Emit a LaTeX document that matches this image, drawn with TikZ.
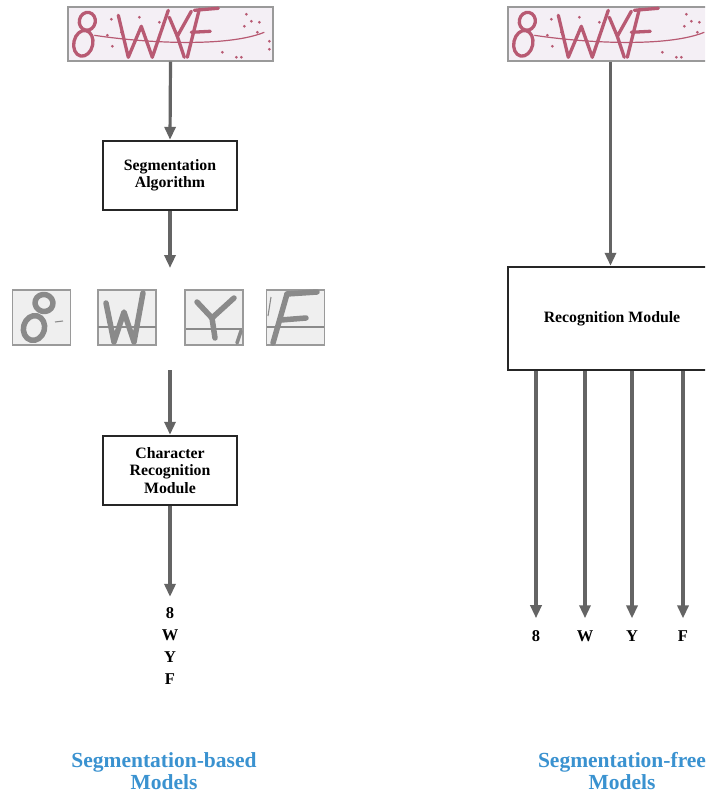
\documentclass[tikz,border=0pt]{standalone}
\usepackage{fontspec}
\setmainfont{Liberation Serif}
\usetikzlibrary{arrows.meta}

\definecolor{arrowgray}{HTML}{646464}
\definecolor{capink}{HTML}{B85A73}
\definecolor{capbg}{HTML}{F4EFF5}
\definecolor{capedge}{HTML}{9A9A9A}
\definecolor{glyphgray}{HTML}{8A8A8A}
\definecolor{tilebg}{HTML}{EFEFEF}
\definecolor{captionblue}{HTML}{3A92D0}

\tikzset{
  arr/.style={draw=arrowgray, line width=3.2pt, -{Triangle[length=13pt,width=11pt]}},
  procbox/.style={draw=black!85, line width=2.4pt, fill=white, inner sep=0pt, align=center,
    font=\bfseries\fontsize{15.8}{17.5}\selectfont},
  captchabox/.style={draw=capedge, line width=1.4pt, fill=capbg, minimum width=205pt,
    minimum height=54pt, inner sep=0pt},
  tile/.style={draw=capedge, line width=1.4pt, fill=tilebg, minimum width=58pt,
    minimum height=55pt, inner sep=0pt},
  outlabel/.style={font=\bfseries\fontsize{16.5}{22.3}\selectfont, align=center, inner sep=0pt},
  caption/.style={font=\bfseries\fontsize{21.5}{22.5}\selectfont, text=captionblue, align=center},
  ink/.style={draw=capink, line width=3.3pt, line cap=round, line join=round},
  noise/.style={draw=capink, line width=1.2pt},
  speck/.style={fill=capink},
  glyph/.style={draw=glyphgray, line width=5.5pt, line cap=round, line join=round},
  glyphnoise/.style={draw=glyphgray, line width=1.1pt},
}

% strokes of the CAPTCHA "8WYF", relative to the image's top-left corner
\newcommand\captchaink[1]{%
  \begin{scope}[shift={(#1)}]
    % 8
    \draw[ink, rotate around={-12:(20,15)}] (20,15) ellipse[x radius=8, y radius=9];
    \draw[ink, rotate around={-12:(16,37)}] (16,37) ellipse[x radius=9.5, y radius=13];
    % W
    \draw[ink] (51,9) -- (61,51) -- (74,20) -- (85,51) -- (101,4);
    % Y
    \draw[ink] (102,11) -- (110,30) -- (124,5);
    \draw[ink] (110,30) -- (117,51);
    % F
    \draw[ink] (132,3) -- (120,51);
    \draw[ink] (127,4) -- (151,2);
    \draw[ink] (124,26) -- (143,25);
    % noise line and specks
    \draw[noise] (27,29) .. controls (80,37) and (160,41) .. (197,26);
    \foreach \p in {(44,13),(45,40),(54,26),(40,29),(72,11),(92,16),(155,46),(169,51),
                    (174,51),(179,8),(184,15),(192,16),(177,20),(190,26),(202,35),(202,43)}
      \fill[speck] \p circle[radius=1.5];
  \end{scope}}

\begin{document}
\begin{tikzpicture}[x=1pt, y=-1pt]
  \clip (0,0) rectangle (705,794);
  \fill[white] (0,0) rectangle (705,794);

  % ---------------- segmentation-based pipeline ----------------
  \node[captchabox] (capL) at (170.5,34) {};
  \captchaink{capL.north west}

  \node[procbox, minimum width=134pt, minimum height=69pt] (seg) at (170,175.5)
    {Segmentation\\Algorithm};

  \coordinate (rowtop) at (170,268);
  \coordinate (rowbot) at (170,370);

  \node[tile] (t1) at (41.5,317.5) {};
  \node[tile] (t2) at (127,317.5) {};
  \node[tile] (t3) at (214,317.5) {};
  \node[tile] (t4) at (295.5,317.5) {};

  % segmented glyphs
  \draw[glyph, rotate around={-15:(44,303)}] (44,303) ellipse[x radius=9, y radius=8.5];
  \draw[glyph, rotate around={-15:(34,328)}] (34,328) ellipse[x radius=10.5, y radius=12.5];
  \draw[glyphnoise] (55,322) -- (63,321);
  \draw[glyphnoise] (98,327) -- (156,327);
  \draw[glyph] (106,303) -- (114,342) -- (124,312) -- (134,342) -- (143,293);
  \draw[glyphnoise] (186,329) -- (242,329);
  \draw[glyph] (197,302) -- (212,318) -- (234,298);
  \draw[glyph] (212,318) -- (215,338);
  \draw[glyph, line width=3.5pt] (237,343) -- (241,331);
  \draw[glyphnoise] (267,327) -- (324,327);
  \draw[glyphnoise] (271,297) -- (268,316);
  \draw[glyph] (287,294) -- (273,343);
  \draw[glyph] (287,294) -- (317,292);
  \draw[glyph] (281,320) -- (306,318);

  \node[procbox, minimum width=134pt, minimum height=69pt] (crm) at (170,470.5)
    {Character\\Recognition\\Module};

  \node[outlabel] (outL) at (170,646) {8\\W\\Y\\F};

  \draw[arr] (capL.south) -- (seg.north);
  \draw[arr] (seg.south) -- (rowtop);
  \draw[arr] (rowbot) -- (crm.north);
  \draw[arr, shorten >=10pt] (crm.south) -- (outL.north);

  \node[caption] (capBased) at (164,771) {Segmentation-based\\Models};

  % ---------------- segmentation-free pipeline ----------------
  \node[captchabox] (capR) at (610.5,34) {};
  \captchaink{capR.north west}

  \node[procbox, minimum width=212pt, minimum height=103pt] (rm) at (614,318.5) {};
  \node[font=\bfseries\fontsize{15.8}{17.5}\selectfont] (rmtext) at (612,318.5) {Recognition Module};

  \draw[arr] (capR.south) -- (capR.south |- rm.north);

  \node[outlabel] (o1) at (536,636) {8};
  \node[outlabel] (o2) at (585,636) {W};
  \node[outlabel] (o3) at (632,636) {Y};
  \node[outlabel] (o4) at (683,636) {F};
  \foreach \o in {o1,o2,o3,o4}
    \draw[arr, shorten >=12pt] (\o |- rm.south) -- (\o.north);

  \node[caption] (capFree) at (622,771) {Segmentation-free\\Models};
\end{tikzpicture}
\end{document}
